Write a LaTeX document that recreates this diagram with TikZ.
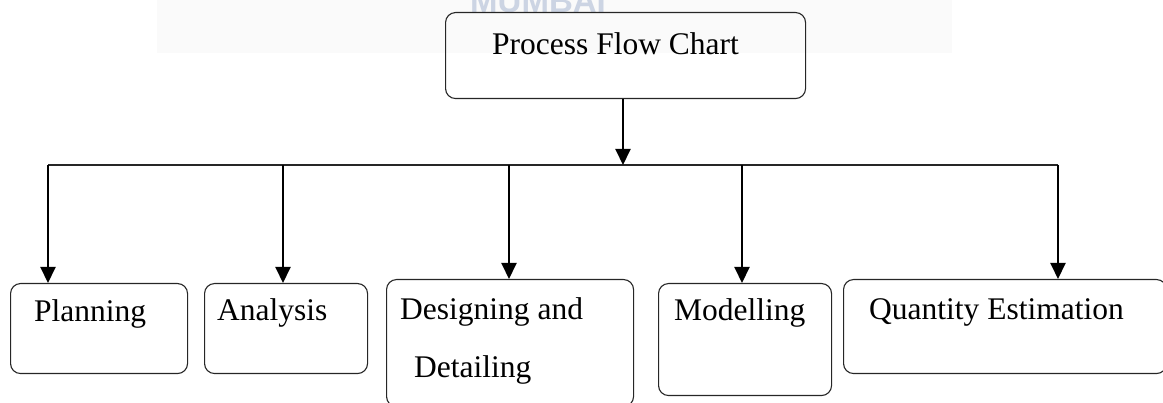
\documentclass[tikz,border=0pt]{standalone}
\usepackage{fontspec}
\setmainfont{Liberation Serif}
\newfontfamily\markfont{Liberation Sans}
\usetikzlibrary{arrows.meta}

\definecolor{inkline}{rgb}{0.15,0.15,0.15}
\definecolor{marktint}{rgb}{0.80,0.83,0.89}

\tikzset{
  stage/.style={draw=inkline, line width=1.1pt, rounded corners=10pt,
                inner sep=0pt, anchor=north west},
  caption/.style={anchor=base west, inner sep=0pt, text=black,
                  font=\fontsize{31.5}{36}\selectfont},
  feed/.style={line width=2pt, draw=black,
               -{Triangle[width=15pt,length=16pt]}},
  bus/.style={line width=1.2pt, draw=inkline}
}

\begin{document}
\begin{tikzpicture}[x=1pt, y=-1pt]
\useasboundingbox (0,0) rectangle (1163,403);

% faint letterhead mark behind the chart
\fill[black!2] (157,0) rectangle (952,53);
\node[anchor=south west, inner sep=0pt, text=marktint,
      font=\markfont\bfseries\fontsize{33}{36}\selectfont] (mark) at (470,13) {MUMBAI};

% boxes
\node[stage, minimum width=360pt, minimum height=86pt]  (top)   at (445,12)  {};
\node[stage, minimum width=177pt, minimum height=90pt]  (plan)  at (10,283)  {};
\node[stage, minimum width=163pt, minimum height=90pt]  (anal)  at (204,283) {};
\node[stage, minimum width=247pt, minimum height=127pt] (design) at (386,279) {};
\node[stage, minimum width=173pt, minimum height=112pt] (model) at (658,283) {};
\node[stage, minimum width=323pt, minimum height=94pt]  (quant) at (843,279) {};

% box texts
\node[caption] (topT)    at (492,55)  {Process Flow Chart};
\node[caption] (planT)   at (34,322)  {Planning};
\node[caption] (analT)   at (217,321) {Analysis};
\node[caption] (designT) at (400,320) {Designing and};
\node[caption] (designU) at (414,378) {Detailing};
\node[caption] (modelT)  at (674,321) {Modelling};
\node[caption] (quantT)  at (869,320) {Quantity Estimation};

% distribution line
\coordinate (hub) at (623,165);
\coordinate (j1) at (48,165);
\coordinate (j2) at (283,165);
\coordinate (j3) at (509,165);
\coordinate (j4) at (742,165);
\coordinate (j5) at (1058,165);

\draw[bus] (j1) -- (j5);
\draw[feed] (top.south -| hub) -- (hub);
\draw[feed] (j1) -- (plan.north -| j1);
\draw[feed] (j2) -- (anal.north -| j2);
\draw[feed] (j3) -- (design.north -| j3);
\draw[feed] (j4) -- (model.north -| j4);
\draw[feed] (j5) -- (quant.north -| j5);
\end{tikzpicture}
\end{document}
